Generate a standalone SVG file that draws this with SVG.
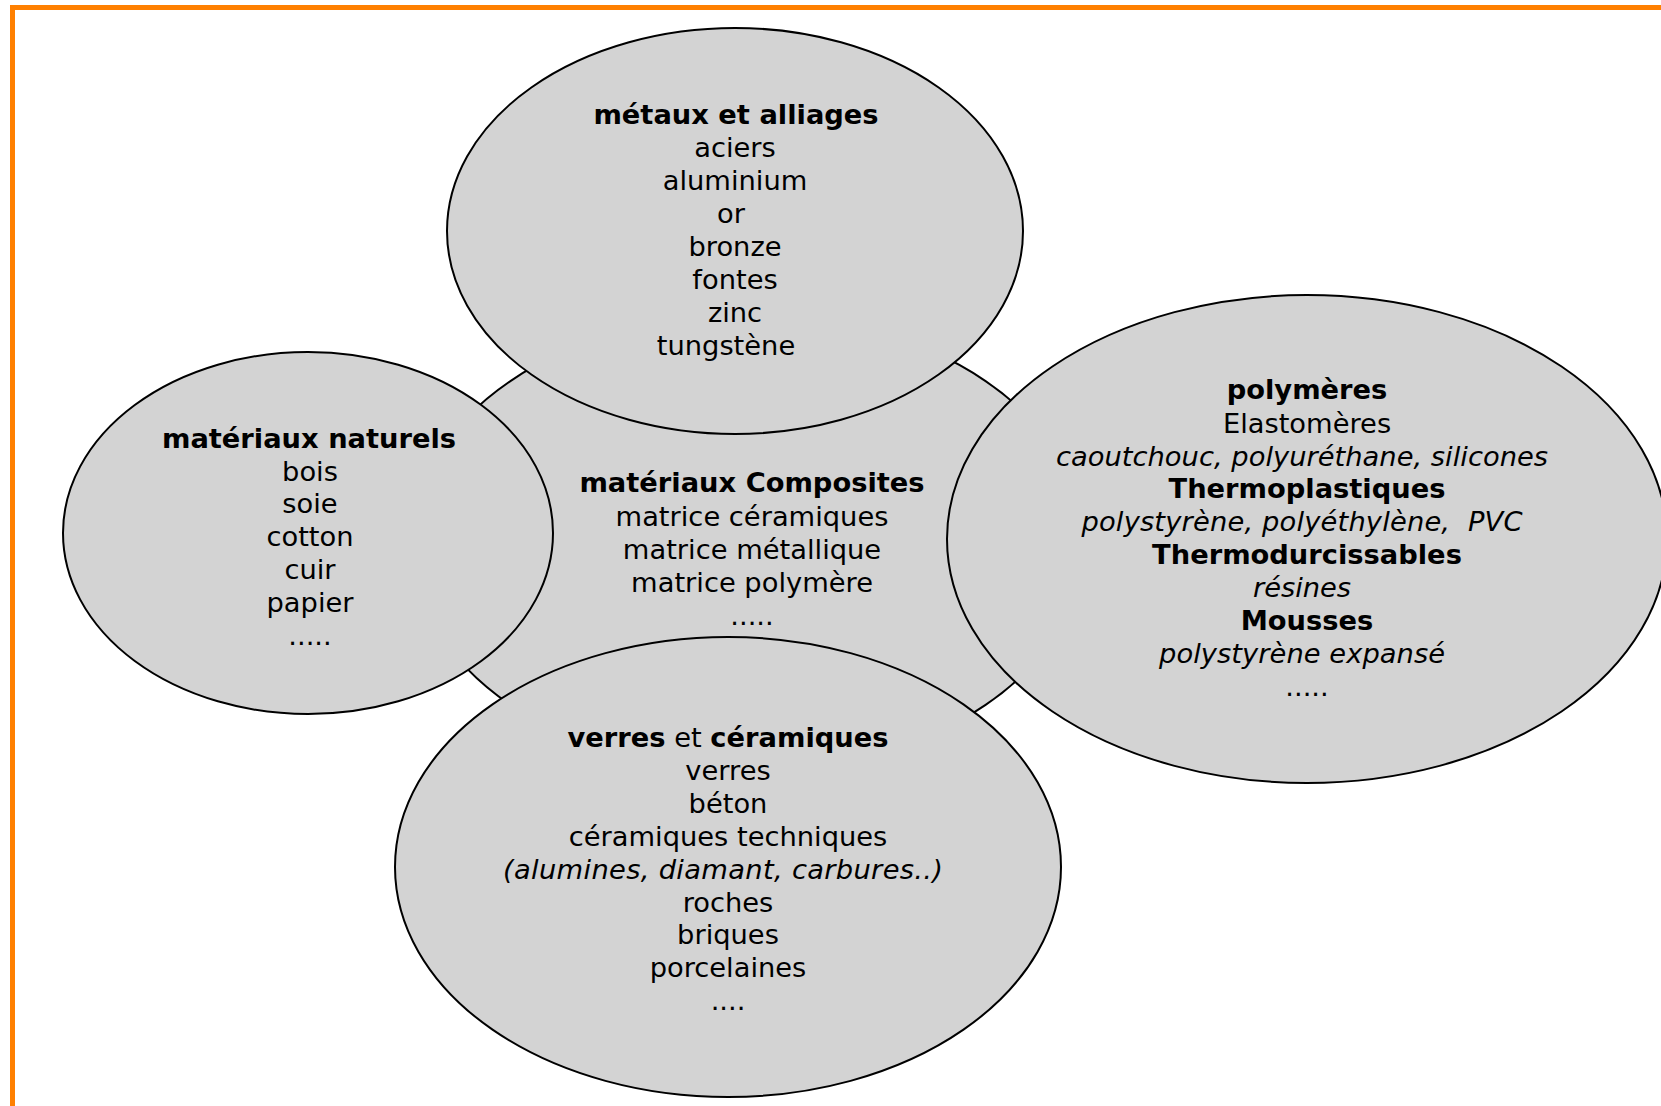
<svg xmlns="http://www.w3.org/2000/svg" width="1661" height="1106" viewBox="0 0 1661 1106">
<style>
.bg{fill:#ffffff}
.frame{fill:none;stroke:#ff8000;stroke-width:5}
.node ellipse{fill:#d3d3d3;stroke:#000000;stroke-width:2}
text{font-family:"DejaVu Sans","Verdana",sans-serif;font-size:27.3px;fill:#000000;text-anchor:middle}
.b{font-weight:bold}
.i{font-style:italic}
</style>
<rect class="bg" x="0" y="0" width="1661" height="1106"/>
<rect class="frame" x="12.5" y="7.5" width="1700" height="1150"/>
<g id="connectors"></g>
<g id="composites" class="node">
<ellipse cx="748" cy="543" rx="336" ry="229"/>
<text class="b" x="752" y="492">matériaux Composites</text>
<text x="752" y="526">matrice céramiques</text>
<text x="752" y="559">matrice métallique</text>
<text x="752" y="592">matrice polymère</text>
<text x="752" y="625">.....</text>
</g>
<g id="metaux" class="node">
<ellipse cx="735" cy="231" rx="288" ry="203"/>
<text class="b" x="736" y="124">métaux et alliages</text>
<text x="735" y="157">aciers</text>
<text x="735" y="190">aluminium</text>
<text x="731" y="223">or</text>
<text x="735" y="256">bronze</text>
<text x="735" y="289">fontes</text>
<text x="735" y="322">zinc</text>
<text x="726" y="355">tungstène</text>
</g>
<g id="naturels" class="node">
<ellipse cx="308" cy="533" rx="245" ry="181"/>
<text class="b" x="309" y="448">matériaux naturels</text>
<text x="310" y="481">bois</text>
<text x="310" y="513">soie</text>
<text x="310" y="546">cotton</text>
<text x="310" y="579">cuir</text>
<text x="310" y="612">papier</text>
<text x="310" y="645">.....</text>
</g>
<g id="polymeres" class="node">
<ellipse cx="1307" cy="539" rx="360" ry="244"/>
<text class="b" x="1307" y="399">polymères</text>
<text x="1307" y="433">Elastomères</text>
<text class="i" x="1302" y="466" textLength="492" lengthAdjust="spacing">caoutchouc, polyuréthane, silicones</text>
<text class="b" x="1307" y="498">Thermoplastiques</text>
<text class="i" x="1302" y="531" xml:space="preserve" textLength="441" lengthAdjust="spacing">polystyrène, polyéthylène,  PVC</text>
<text class="b" x="1307" y="564">Thermodurcissables</text>
<text class="i" x="1302" y="597">résines</text>
<text class="b" x="1307" y="630">Mousses</text>
<text class="i" x="1302" y="663" textLength="286" lengthAdjust="spacing">polystyrène expansé</text>
<text x="1307" y="696">.....</text>
</g>
<g id="verres" class="node">
<ellipse cx="728" cy="867" rx="333" ry="230"/>
<text x="728" y="747"><tspan class="b">verres</tspan> et <tspan class="b">céramiques</tspan></text>
<text x="728" y="780">verres</text>
<text x="728" y="813">béton</text>
<text x="728" y="846">céramiques techniques</text>
<text class="i" x="723" y="879" textLength="440" lengthAdjust="spacing">(alumines, diamant, carbures..)</text>
<text x="728" y="912">roches</text>
<text x="728" y="944">briques</text>
<text x="728" y="977">porcelaines</text>
<text x="728" y="1010">....</text>
</g>
</svg>
